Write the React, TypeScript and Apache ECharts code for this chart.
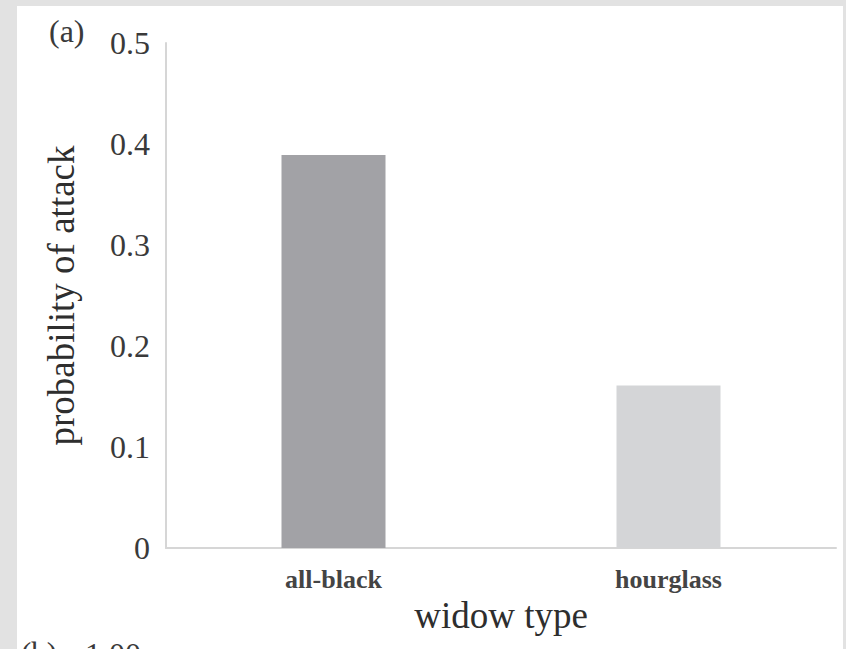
import React, { useEffect, useRef } from "react";
import * as echarts from "echarts";

const categories = ["all-black", "hourglass"];
const values = [0.389, 0.161];
const barColors = ["#a2a2a6", "#d4d5d7"];
const yTicks = [0, 0.1, 0.2, 0.3, 0.4, 0.5];

const FONT = "'Liberation Serif', 'DejaVu Serif', serif";

export default function App() {
  const ref = useRef<HTMLDivElement>(null);
  useEffect(() => {
    if (!ref.current) return;
    const chart = echarts.init(ref.current, undefined, { renderer: "svg" });
    chart.setOption({
      animation: false,
      backgroundColor: "#e2e2e2",
      graphic: [
        {
          type: "rect",
          z: -10,
          shape: { x: 17, y: 6, width: 826, height: 643 },
          style: { fill: "#ffffff" },
        },
        {
          type: "text",
          x: 49,
          y: 15,
          style: { text: "(a)", font: `32px ${FONT}`, fill: "#3a3a3a", verticalAlign: "top" },
        },
        {
          type: "text",
          x: 21,
          y: 638,
          style: { text: "(b)", font: `31px ${FONT}`, fill: "#3a3a3a", verticalAlign: "top" },
        },
        {
          type: "text",
          x: 85,
          y: 638,
          style: { text: "1.00", font: `32px ${FONT}`, fill: "#3a3a3a", verticalAlign: "top" },
        },
      ],
      grid: { left: 166, right: 10, top: 43, bottom: 101, containLabel: false },
      xAxis: {
        type: "category",
        data: categories,
        name: "widow type",
        nameLocation: "middle",
        nameGap: 42,
        nameTextStyle: { fontFamily: FONT, fontSize: 37, color: "#2e2e2e" },
        axisLine: { show: true, lineStyle: { color: "#d6d6d6", width: 2 } },
        axisTick: { show: false },
        axisLabel: {
          fontFamily: FONT,
          fontSize: 26,
          fontWeight: "bold",
          color: "#444444",
          margin: 18,
        },
      },
      yAxis: {
        type: "value",
        min: 0,
        max: 0.5,
        interval: 0.1,
        name: "probability of attack",
        nameLocation: "middle",
        nameRotate: 90,
        nameGap: 86,
        nameTextStyle: { fontFamily: FONT, fontSize: 37, color: "#2e2e2e" },
        axisLine: { show: true, lineStyle: { color: "#d6d6d6", width: 2 } },
        axisTick: { show: false },
        splitLine: { show: false },
        axisLabel: {
          fontFamily: FONT,
          fontSize: 32,
          color: "#3a3a3a",
          margin: 16,
          formatter: (v: number) => {
            const t = yTicks.find((x) => Math.abs(x - v) < 1e-9);
            return t === 0 ? "0" : (t ?? v).toFixed(1);
          },
        },
      },
      series: [
        {
          type: "bar",
          data: values.map((v, i) => ({ value: v, itemStyle: { color: barColors[i] } })),
          barWidth: 104,
        },
      ],
    });
    return () => chart.dispose();
  }, []);
  return (
    <div
      ref={ref}
      style={{ position: "absolute", left: 0, top: 0, width: 846, height: 649 }}
    />
  );
}
